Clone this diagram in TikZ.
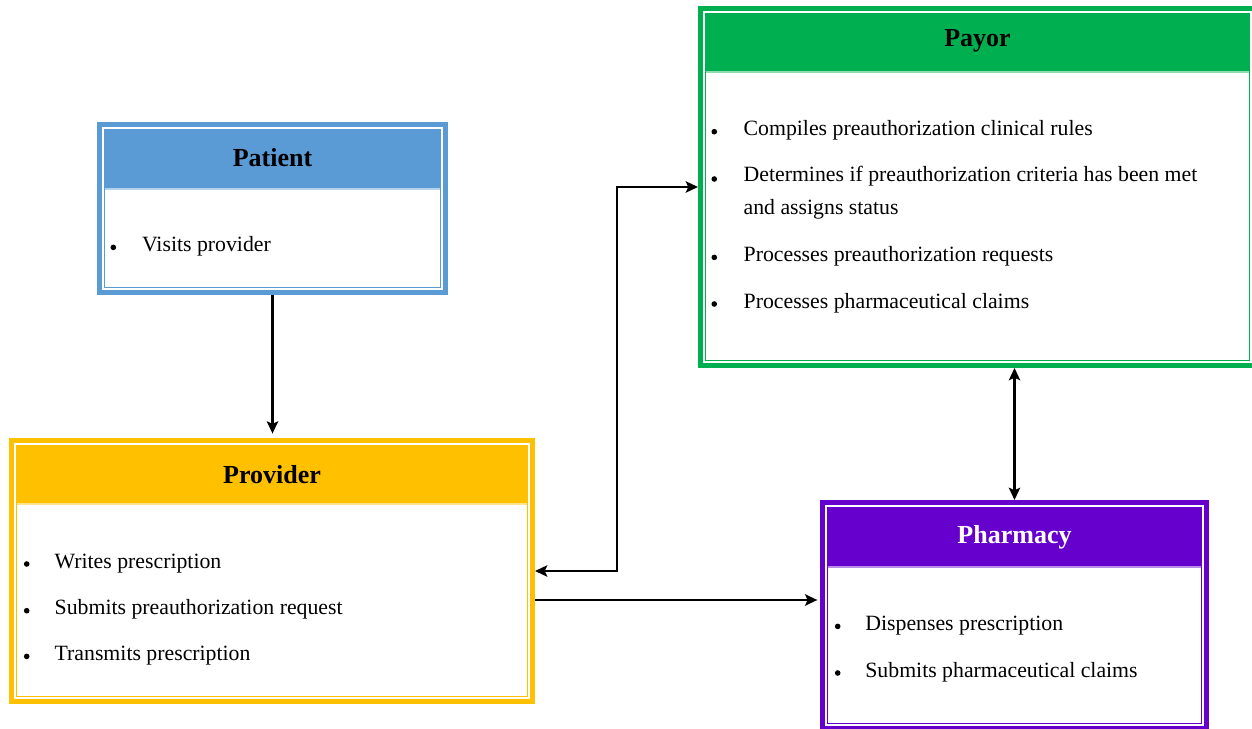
\documentclass[tikz,border=0pt]{standalone}
\usepackage{fontspec}
\setmainfont{Liberation Serif}
\usetikzlibrary{arrows.meta}
\usetikzlibrary{fit}
\usetikzlibrary{positioning}

\definecolor{patientblue}{HTML}{5B9BD5}
\definecolor{provideryellow}{HTML}{FFC000}
\definecolor{payorgreen}{HTML}{00B050}
\definecolor{pharmacypurple}{HTML}{6600CC}

\tikzset{
  actor/.style={draw=#1, line width=3.1pt, fill=white, inner sep=-1.55pt},
  heading/.style={anchor=base, font=\fontsize{14.8}{17}\selectfont\bfseries},
  item/.style={anchor=base west, inner sep=0pt, align=left, font=\fontsize{12.4}{18.8}\selectfont},
  link/.style={line width=1.7pt, black},
  tip/.tip={Stealth[length=7pt, width=6.5pt, inset=1.5pt]}
}

\begin{document}
\begin{tikzpicture}[x=0.02cm, y=-0.02cm]
	\useasboundingbox (0,0) rectangle (1252,729);

	% the four parties
	\node[actor=patientblue, fit={(97,122) (448,295)}] (patient) {};
	\node[actor=provideryellow, fit={(9,438) (535,704)}] (provider) {};
	\node[actor=payorgreen, fit={(698,6) (1257,368)}] (payor) {};
	\node[actor=pharmacypurple, fit={(820,500) (1209,731)}] (pharmacy) {};

	\foreach \n/\c/\b in {patient/patientblue/189, provider/provideryellow/504, payor/payorgreen/72, pharmacy/pharmacypurple/567} {
		\coordinate (band) at (0,\b);
		\fill[\c] ([shift={(7.5,7.5)}]\n.north west) rectangle ([xshift=-0.15cm]\n.east |- band);
		\draw[\c!45, line width=0.6pt] ([xshift=0.15cm]\n.west |- band) -- ([xshift=-0.15cm]\n.east |- band);
		\draw[\c, line width=0.9pt] ([shift={(7.5,7.5)}]\n.north west) rectangle ([shift={(-7.5,-7.5)}]\n.south east);
	}

	\node[heading] (patient-title) at (272.5,166.7) {Patient};
	\node[heading] (provider-title) at (272,483.3) {Provider};
	\node[heading] (payor-title) at (977.5,46.7) {Payor};
	\node[heading, white] (pharmacy-title) at (1014.5,544) {Pharmacy};

	% bullet lists (node base = last line)
	\fill (113.3,247.4) circle[radius=1.6pt];
	\node[item] (patient-1) at (141.7,251.7) {Visits provider};

	\foreach \y/\t [count=\i] in {568.3/Writes prescription, 615/Submits preauthorization request, 660.7/Transmits prescription} {
		\fill (26.7,\y-4.3) circle[radius=1.6pt];
		\node[item] (provider-\i) at (54.3,\y) {\t};
	}

	\foreach \y/\b/\t [count=\i] in {136/136/Compiles preauthorization clinical rules, 183.3/215/{Determines if preauthorization criteria has been met\\and assigns status}, 261.7/261.7/Processes preauthorization requests, 308.3/308.3/Processes pharmaceutical claims} {
		\fill (714.3,\y-4.3) circle[radius=1.6pt];
		\node[item] (payor-\i) at (743.3,\b) {\t};
	}

	\foreach \y/\t [count=\i] in {630.7/Dispenses prescription, 677.3/Submits pharmaceutical claims} {
		\fill (837.7,\y-4.3) circle[radius=1.6pt];
		\node[item] (pharmacy-\i) at (865,\y) {\t};
	}

	% connectors
	\coordinate (elbow) at (617,0);
	\coordinate (feed) at (0,600);

	\draw[link, -tip, shorten >=2.5pt] (patient.south) -- (patient.south |- provider.north);
	\draw[link, tip-tip] (provider.east) -- (provider.east -| elbow) -- (elbow |- payor.west) -- (payor.west);
	\draw[link, -tip, shorten >=1.5pt] (provider.east |- feed) -- (pharmacy.west |- feed);
	\draw[link, tip-tip] (pharmacy.north |- payor.south) -- (pharmacy.north);
\end{tikzpicture}
\end{document}
